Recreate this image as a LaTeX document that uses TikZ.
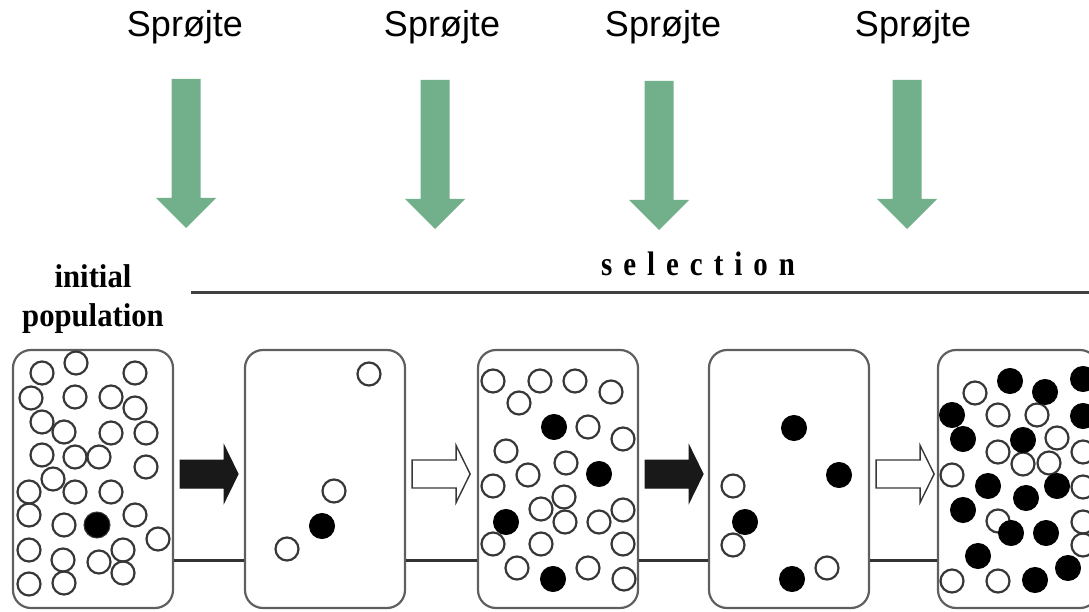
\documentclass[tikz,border=0pt]{standalone}
\usepackage{fontspec}
\setmainfont{Liberation Serif}
\newfontfamily\sprfont{Liberation Sans}
\usetikzlibrary{calc}
\definecolor{sprgreen}{RGB}{114,176,139}
\definecolor{boxgray}{RGB}{95,95,95}
\definecolor{ringgray}{RGB}{55,55,55}
\newcommand\lsp{\hspace{12.9pt}}
\begin{document}
\begin{tikzpicture}[x=1pt,y=-1pt,
  popbox/.style={draw=boxgray, line width=2.2pt, rounded corners=18pt, minimum width=160pt, minimum height=258pt, inner sep=0pt},
  opencirc/.style={circle, draw=ringgray, line width=2.2pt, minimum size=23pt, inner sep=0pt},
  fullcirc/.style={circle, draw=black, line width=1pt, fill=black, minimum size=25pt, inner sep=0pt},
  linkline/.style={draw=black!80, line width=3pt},
  sprlabel/.style={font=\sprfont\fontsize{36}{42}\selectfont, anchor=base, inner sep=0pt},
  blockarr/.pic={\path[pic actions] (0,-14) -- (44,-14) -- (44,-28.5) -- (58,0) -- (44,28.5) -- (44,14) -- (0,14) -- cycle;},
  sprarrow/.pic={\path[fill=sprgreen] (-14.5,0) -- (14.5,0) -- (14.5,119) -- (30,119) -- (0,149) -- (-30,119) -- (-14.5,119) -- cycle;}
]
\useasboundingbox (0,0) rectangle (1089,612);
\clip (0,0) rectangle (1089,612);

% spray labels and arrows
\node[sprlabel] (s1) at (185,37) {Sprøjte};
\node[sprlabel] (s2) at (442,37) {Sprøjte};
\node[sprlabel] (s3) at (663,37) {Sprøjte};
\node[sprlabel] (s4) at (913,37) {Sprøjte};
\pic at (186,79) {sprarrow};
\pic at (435,80) {sprarrow};
\pic at (659,81) {sprarrow};
\pic at (907,80) {sprarrow};

% headings
\node[font=\bfseries\fontsize{33}{39}\selectfont, align=center, inner sep=0pt] (init) at (93,299) {\scalebox{0.93}[1]{initial}\\\scalebox{0.93}[1]{population}};
\node[font=\bfseries\fontsize{34}{40}\selectfont, anchor=base, inner sep=0pt] (sel) at (698,276) {\scalebox{0.85}[1]{s\lsp e\lsp l\lsp e\lsp c\lsp t\lsp i\lsp o\lsp n}};
\coordinate (selA) at (191,292);
\coordinate (selB) at (1089,292);
\draw[draw=black!75, line width=3pt] (selA) -- (selB);

% boxes
\node[popbox] (b1) at (93,479) {};
\node[popbox] (b2) at (325,479) {};
\node[popbox] (b3) at (558,479) {};
\node[popbox] (b4) at (789,479) {};
\node[popbox] (b5) at (1018,479) {};

% base line between boxes
\coordinate (lineY) at (0,560);
\draw[linkline] (b1.east |- lineY) -- (b2.west |- lineY);
\draw[linkline] (b2.east |- lineY) -- (b3.west |- lineY);
\draw[linkline] (b3.east |- lineY) -- (b4.west |- lineY);
\draw[linkline] (b4.east |- lineY) -- (b5.west |- lineY);

% block arrows between boxes
\pic[fill=black!90, draw=black!90, line width=1pt] at ($(b1.east)+(6,-5)$) {blockarr};
\pic[fill=white, draw=ringgray, line width=1.4pt] at ($(b2.east)+(6,-5)$) {blockarr};
\pic[fill=black!90, draw=black!90, line width=1pt] at ($(b3.east)+(6,-5)$) {blockarr};
\pic[fill=white, draw=ringgray, line width=1.4pt] at ($(b4.east)+(6,-5)$) {blockarr};

% box 1
\foreach \px/\py [count=\i] in {42/373, 76/363, 135/373, 31/398, 75/397, 111/397, 135/408, 42/422, 64/432, 111/433, 146/433, 42/455, 75/457, 99/457, 146/467, 53/479, 29/492, 75/492, 111/492, 29/515, 135/515, 64/525, 158/539, 29/550, 63/560, 99/562, 123/550, 123/573, 29/584, 64/583}
  \node[opencirc] (pa\i) at (\px,\py) {};
\node[fullcirc, minimum size=26pt, draw=ringgray] (fa1) at (97,525) {};

% box 2
\foreach \px/\py [count=\i] in {369/374, 334/491, 287/549}
  \node[opencirc] (pb\i) at (\px,\py) {};
\node[fullcirc] (fb1) at (322,526) {};

% box 3
\foreach \px/\py [count=\i] in {493/381, 540/381, 575/381, 611/392, 519/403, 588/427, 623/439, 506/451, 566/463, 528/475, 493/486, 564/497, 541/509, 565/522, 599/522, 623/510, 493/544, 541/544, 623/544, 517/568, 588/568, 624/579}
  \node[opencirc] (pc\i) at (\px,\py) {};
\foreach \px/\py [count=\i] in {554/427, 599/474, 506/522, 553/579}
  \node[fullcirc] (fc\i) at (\px,\py) {};

% box 4
\foreach \px/\py [count=\i] in {733/486, 733/545, 827/568}
  \node[opencirc] (pd\i) at (\px,\py) {};
\foreach \px/\py [count=\i] in {794/428, 839/475, 745/522, 792/579}
  \node[fullcirc] (fd\i) at (\px,\py) {};

% box 5
\foreach \px/\py [count=\i] in {975/393, 998/415, 1037/415, 998/452, 1057/438, 1083/452, 1023/464, 1049/463, 952/475, 1083/487, 998/521, 1083/522, 1083/545, 952/581, 998/581}
  \node[opencirc] (pe\i) at (\px,\py) {};
\foreach \px/\py [count=\i] in {1010/381, 1045/392, 1083/379, 952/415, 1083/416, 963/439, 1023/440, 988/486, 1026/498, 1057/486, 963/510, 1011/533, 1046/533, 978/556, 1068/568, 1035/580}
  \node[fullcirc] (fe\i) at (\px,\py) {};
\end{tikzpicture}
\end{document}
